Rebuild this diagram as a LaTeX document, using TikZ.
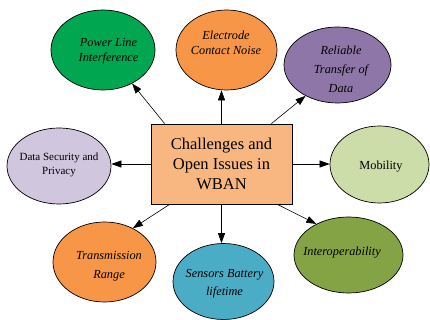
\documentclass[tikz,border=0pt]{standalone}
\usepackage{fontspec}
\setmainfont{Liberation Serif}
\usetikzlibrary{shapes.geometric,arrows.meta,calc}
\definecolor{cgreen}{RGB}{0,166,80}
\definecolor{corange}{RGB}{247,150,70}
\definecolor{cpurple}{RGB}{143,118,168}
\definecolor{clav}{RGB}{208,198,222}
\definecolor{cmob}{RGB}{204,221,170}
\definecolor{colive}{RGB}{131,163,68}
\definecolor{cteal}{RGB}{75,172,198}
\definecolor{cbox}{RGB}{248,182,128}
\begin{document}
\begin{tikzpicture}[x=1pt,y=-1pt,
  ell/.style={ellipse,draw=black,line width=0.7pt,inner sep=0pt},
  itl/.style={font=\fontsize{12.3}{15}\selectfont\itshape,align=center,inner sep=0pt},
  upl/.style={font=\fontsize{12.3}{15}\selectfont,align=center,inner sep=0pt},
  arr/.style={line width=0.6pt,-{Triangle[length=10pt,width=7pt]}}]
\useasboundingbox (0,0) rectangle (430,320);
% central box
\node[draw=black, fill=cbox, line width=0.8pt, minimum width=141pt, minimum height=80pt,
      inner sep=0pt, font=\fontsize{16.5}{20}\selectfont, align=center] (box) at (221.5,164)
      {Challenges and\\Open Issues in\\WBAN};
% ellipses
\node[ell, fill=cgreen,  minimum width=104pt, minimum height=80pt] (pl)  at (103,50) {};
\node[ell, fill=corange, minimum width=101pt, minimum height=80pt] (ec)  at (226.5,50) {};
\node[ell, fill=cpurple, minimum width=107pt, minimum height=76pt] (rt)  at (337.5,65) {};
\node[ell, fill=clav,    minimum width=104pt, minimum height=76pt] (ds)  at (59,166) {};
\node[ell, fill=cmob,    minimum width=99pt,  minimum height=77pt] (mob) at (379.5,164.5) {};
\node[ell, fill=colive,  minimum width=109pt, minimum height=76pt] (io)  at (348.5,255) {};
\node[ell, fill=cteal,   minimum width=101pt, minimum height=76pt] (sb)  at (223.5,281.5) {};
\node[ell, fill=corange, minimum width=103pt, minimum height=80pt] (tr)  at (104.5,262) {};
% labels
\node[itl] (plt) at (108.5,51) {Power Line\\Interference};
\node[itl] (ect) at (226,43) {Electrode\\Contact Noise};
\node[itl, font=\fontsize{12.3}{19}\selectfont\itshape] (rtt) at (341,69) {Reliable\\Transfer of\\Data};
\node[upl, font=\fontsize{11}{14}\selectfont] (dst) at (59,164.5) {Data Security and\\Privacy};
\node[upl] (mobt) at (381,167) {Mobility};
\node[itl] (iot) at (342,253) {Interoperability};
\node[itl, font=\fontsize{12.3}{18}\selectfont\itshape] (sbt) at (224.5,284) {Sensors Battery\\lifetime};
\node[itl, font=\fontsize{12.3}{19}\selectfont\itshape] (trt) at (109,266) {Transmission\\Range};
% connectors
\draw[arr] ($(box.north west)+(14,0)$) -- (pl.-49);
\draw[arr] (box.north) -- (box.north |- ec.south);
\draw[arr] ($(box.north east)+(-21,0)$) -- (rt.224);
\draw[arr] (box.west) -- (box.west -| ds.east);
\draw[arr] (box.east) -- (box.east -| mob.west);
\draw[arr] ($(box.south east)+(-15,0)$) -- (io.136);
\draw[arr] (box.south) -- (box.south |- sb.north);
\draw[arr] ($(box.south west)+(19,0)$) -- (tr.50);
\end{tikzpicture}
\end{document}
